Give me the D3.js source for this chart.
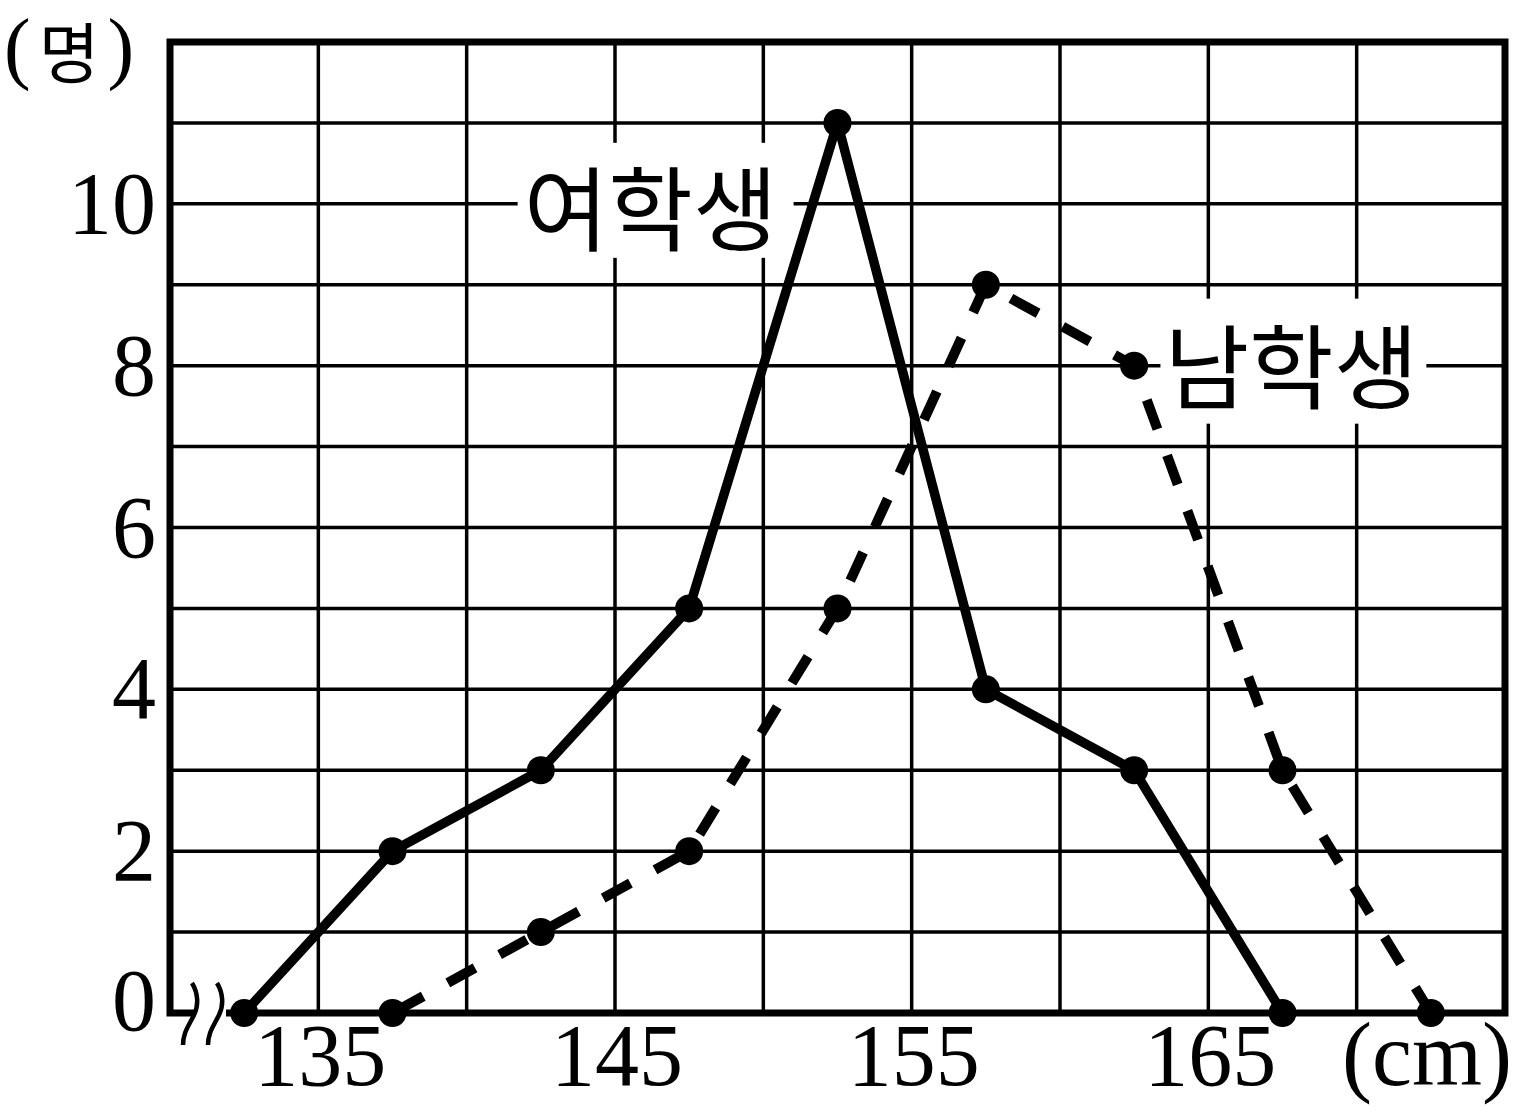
<!DOCTYPE html>
<html><head><meta charset="utf-8">
<script src="https://cdn.jsdelivr.net/npm/d3@7"></script>
<style>html,body{margin:0;padding:0;background:#fff;}</style>
</head><body>
<svg id="chart" width="1522" height="1118"></svg>
<script>
// Data
const heights = [132.5, 137.5, 142.5, 147.5, 152.5, 157.5, 162.5, 167.5, 172.5];
const girls = [0, 2, 3, 5, 11, 4, 3, 0, null];
const boys  = [null, 0, 1, 2, 5, 9, 8, 3, 0];
const xTicks = [135, 145, 155, 165];
const yTicks = [0, 2, 4, 6, 8, 10];
const girlsLabel = "여학생";
const boysLabel = "남학생";
const yUnit = "명";
const xUnit = "(cm)";

const svg = d3.select("#chart");
const x = d3.scaleLinear().domain([130, 175]).range([170, 1505]);
const y = d3.scaleLinear().domain([0, 12]).range([1013, 42]);

const serif = "'Liberation Serif', 'Times New Roman', serif";
const kor = "'Noto Sans CJK KR', sans-serif";

// grid
const g = svg.append("g");
g.selectAll("line.h").data(d3.range(1, 12)).join("line")
  .attr("x1", x(130)).attr("x2", x(175))
  .attr("y1", d => y(d)).attr("y2", d => y(d))
  .attr("stroke", "#000").attr("stroke-width", 3.5);
g.selectAll("line.v").data(d3.range(135, 175, 5)).join("line")
  .attr("y1", y(0)).attr("y2", y(12))
  .attr("x1", d => x(d)).attr("x2", d => x(d))
  .attr("stroke", "#000").attr("stroke-width", 3.5);

// series labels with white backgrounds
function boxLabel(text, cx, baseline, padL, padR, padT, padB) {
  const t = svg.append("text").attr("x", cx).attr("y", baseline)
    .attr("text-anchor", "middle").attr("font-family", kor)
    .attr("font-size", 92).text(text);
  const bb = t.node().getBBox();
  svg.insert("rect", function(){ return t.node(); })
    .attr("x", bb.x - padL).attr("y", bb.y - padT)
    .attr("width", bb.width + padL + padR).attr("height", bb.height + padT + padB)
    .attr("fill", "#fff");
}
boxLabel(girlsLabel, x(146.2), y(10) + 40, 6, 16, -6, -12);
boxLabel(boysLabel, x(167.8), y(8) + 36, 4, 8, -4, -4);

// frame
svg.append("rect").attr("x", x(130)).attr("y", y(12))
  .attr("width", x(175) - x(130)).attr("height", y(0) - y(12))
  .attr("fill", "none").attr("stroke", "#000").attr("stroke-width", 7);

// axis break
svg.append("rect").attr("x", 195).attr("y", y(0) - 6).attr("width", 31).attr("height", 12).attr("fill", "#fff");
[0, 25].forEach(off => {
  svg.append("path")
    .attr("d", `M${192+off} 983 C${198+off} 993 ${199+off} 1005 ${194+off} 1015 C${188+off} 1027 ${183+off} 1033 ${183+off} 1045`)
    .attr("fill", "none").attr("stroke", "#000").attr("stroke-width", 4.5);
});

// lines
const line = d3.line().defined(d => d[1] != null).x(d => x(d[0])).y(d => y(d[1]));
const gPts = heights.map((h, i) => [h, girls[i]]);
const bPts = heights.map((h, i) => [h, boys[i]]);
svg.append("path").attr("d", line(gPts)).attr("fill", "none")
  .attr("stroke", "#000").attr("stroke-width", 9.5).attr("stroke-linejoin", "round");
svg.append("path").attr("d", line(bPts.filter(d => d[1] != null))).attr("fill", "none")
  .attr("stroke", "#000").attr("stroke-width", 10).attr("stroke-dasharray", "31,28")
  .attr("stroke-dashoffset", -4);
svg.selectAll("circle.g").data(gPts.filter(d => d[1] != null)).join("circle")
  .attr("cx", d => x(d[0])).attr("cy", d => y(d[1])).attr("r", 14).attr("fill", "#000");
svg.selectAll("circle.b").data(bPts.filter(d => d[1] != null)).join("circle")
  .attr("cx", d => x(d[0])).attr("cy", d => y(d[1])).attr("r", 14).attr("fill", "#000");

// tick labels
svg.selectAll("text.yt").data(yTicks).join("text")
  .attr("x", 156).attr("y", d => y(d) + (d === 0 ? -12 : 0) + 29)
  .attr("text-anchor", "end").attr("font-family", serif).attr("font-size", 88)
  .text(d => d);
svg.selectAll("text.xt").data(xTicks).join("text")
  .attr("x", d => x(d) + 2).attr("y", 1085)
  .attr("text-anchor", "middle").attr("font-family", serif).attr("font-size", 88)
  .text(d => d);

// units
const yu = svg.append("text").attr("x", 4).attr("y", 74).attr("font-size", 80);
yu.append("tspan").attr("font-family", serif).text("(");
yu.append("tspan").attr("font-family", kor).attr("font-size", 66).attr("dx", 8).attr("dy", 4).text(yUnit);
yu.append("tspan").attr("font-family", serif).attr("dx", 8).attr("dy", -4).text(")");
svg.append("text").attr("x", 1512).attr("y", 1085).attr("text-anchor", "end")
  .attr("font-family", serif).attr("font-size", 90).text(xUnit);
</script>
</body></html>
